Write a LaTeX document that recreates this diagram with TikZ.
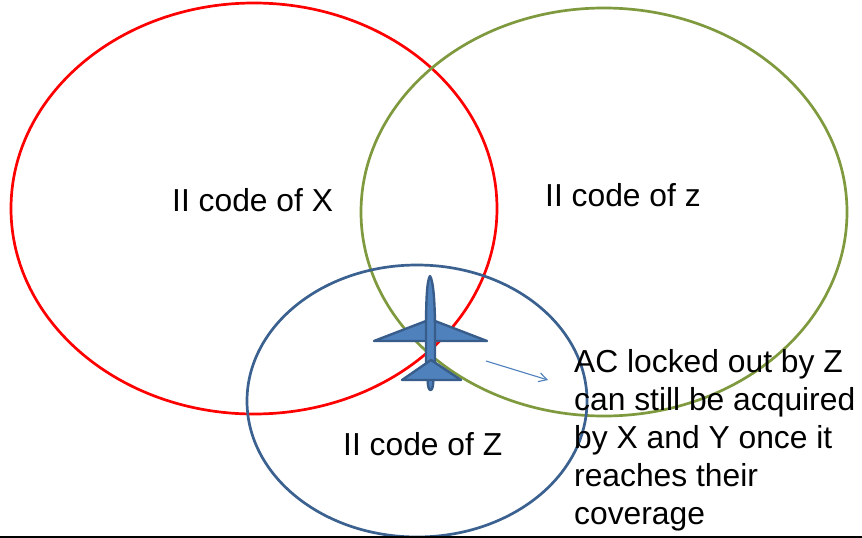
\documentclass[tikz,border=0pt]{standalone}
\usepackage{fontspec}
\setmainfont{Liberation Sans}
\definecolor{planefill}{HTML}{4F81BD}
\definecolor{planeedge}{HTML}{385D8A}
\definecolor{olivec}{HTML}{7F9A3E}
\definecolor{zblue}{HTML}{3A618F}
\tikzset{
  zoneline/.style={line width=2.7pt},
  planepart/.style={fill=planefill,draw=planeedge,line width=2.4pt,line join=round},
  lbl/.style={font=\fontsize{31.8}{38}\selectfont,text=black,inner sep=0pt,anchor=base west},
}
\usetikzlibrary{arrows.meta,shapes.geometric}
\begin{document}
\begin{tikzpicture}[x=1pt,y=-1pt]
\useasboundingbox (0,0) rectangle (862,538);
\fill[white] (0,0) rectangle (862,538);
\draw[red,zoneline] (254,208.5) ellipse [x radius=243,y radius=205.5];
\draw[olivec,zoneline] (604,212) ellipse [x radius=243,y radius=204];
\draw[zblue,zoneline] (417,401) ellipse [x radius=170,y radius=136];
\node[lbl] (labelx) at (172,211) {II code of X};
\node[lbl] (labelz) at (545,206) {II code of z};
\node[lbl] (labelzz) at (343,455) {II code of Z};
\draw[planepart] (374,341) -- (426,321) -- (435,321) -- (487,341) -- cycle;
\draw[planepart] (430,276) .. controls (427,280) and (426,300) .. (426,330) -- (426,360) -- (428,385) .. controls (429,392) and (432,392) .. (433,385) -- (435,360) -- (435,330) .. controls (435,300) and (433,280) .. (430,276) -- cycle;
\draw[planepart] (402,380) -- (431,360) -- (461,380) -- cycle;
\coordinate (arrowa) at (486,361);
\coordinate (arrowb) at (548,380);
\draw[planefill,line width=1.1pt,-{Straight Barb[length=8pt,width=9pt]}] (arrowa) -- (arrowb);
\node[lbl] (l1) at (574,372) {AC locked out by Z};
\node[lbl] (l2) at (574,410) {can still be acquired};
\node[lbl] (l3) at (574,448) {by X and Y once it};
\node[lbl] (l4) at (574,486.5) {reaches their};
\node[lbl] (l5) at (574,524) {coverage};
\coordinate (basea) at (0,537);
\coordinate (baseb) at (862,537);
\draw[black,line width=1.5pt] (basea) -- (baseb);
\end{tikzpicture}
\end{document}
